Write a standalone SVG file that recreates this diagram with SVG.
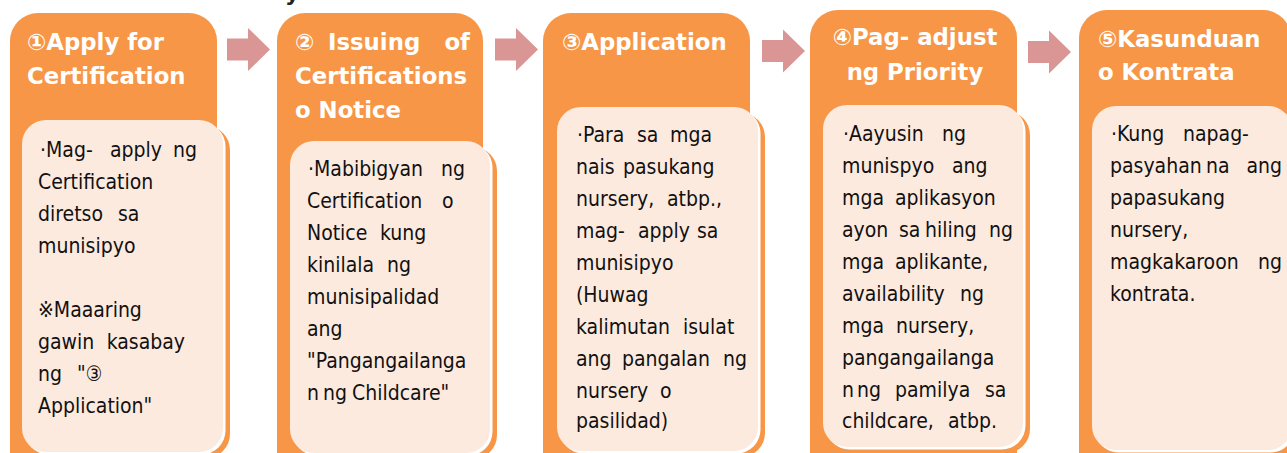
<svg xmlns="http://www.w3.org/2000/svg" width="1287" height="453" viewBox="0 0 1287 453">
<style>
.card{fill:#F79646}
.shadow{fill:#F79646}
.gap{fill:#FFFFFF}
.panel{fill:#FDEADF}
.arrow{fill:#D99694}
.title{font-family:"DejaVu Sans","Verdana","Liberation Sans",sans-serif;font-weight:bold;font-size:22.8px;fill:#FFFFFF}
.body{font-family:"DejaVu Sans Condensed","DejaVu Sans","Liberation Sans Narrow",sans-serif;font-stretch:condensed;font-size:21px;fill:#111111}
.frag{font-family:"DejaVu Sans",sans-serif;font-weight:bold;font-size:22px;fill:#222222}
</style>
<rect width="1287" height="453" fill="#FFFFFF"/>
<text class="frag" x="285" y="1">y</text>

<g id="connectors">
<path class="arrow" d="M227,38.5 H248 V28 L270,49.5 L248,71 V60.5 H227 Z"/>
<path class="arrow" d="M495,38.5 H516 V28 L538,49.5 L516,71 V60.5 H495 Z"/>
<path class="arrow" d="M762,40 H783 V29.5 L805,51 L783,72.5 V62 H762 Z"/>
<path class="arrow" d="M1028,41 H1049 V30.5 L1071,52 L1049,73.5 V63 H1028 Z"/>
</g>

<g id="step1">
<rect class="card" x="10" y="13" width="207" height="470" rx="28"/>
<rect class="shadow" x="29" y="126" width="201" height="332" rx="24"/>
<rect class="gap" x="24.5" y="122.5" width="201" height="332" rx="24"/>
<rect class="panel" x="22" y="120" width="201" height="332" rx="24"/>
<text class="title" x="27" y="50">①Apply for</text>
<text class="title" x="27" y="84">Certification</text>
<g class="body">
<text x="40" y="157">·Mag-</text><text x="110" y="157">apply</text><text x="197" y="157" text-anchor="end">ng</text>
<text x="38" y="189">Certification</text>
<text x="38" y="221">diretso</text><text x="118" y="221">sa</text>
<text x="38" y="253">munisipyo</text>
<text x="38" y="317">※Maaaring</text>
<text x="38" y="349">gawin</text><text x="185" y="349" text-anchor="end">kasabay</text>
<text x="38" y="381">ng</text><text x="77" y="381">"③</text>
<text x="38" y="413">Application"</text>
</g>
</g>

<g id="step2">
<rect class="card" x="277" y="13" width="206" height="470" rx="28"/>
<rect class="shadow" x="297" y="147" width="200" height="312" rx="24"/>
<rect class="gap" x="292.5" y="143.5" width="200" height="312" rx="24"/>
<rect class="panel" x="290" y="141" width="200" height="312" rx="24"/>
<text class="title" x="295" y="50">②</text><text class="title" x="328" y="50">Issuing</text><text class="title" x="470" y="50" text-anchor="end">of</text>
<text class="title" x="295" y="84">Certifications</text>
<text class="title" x="295" y="118">o Notice</text>
<g class="body">
<text x="308" y="176">·Mabibigyan</text><text x="465" y="176" text-anchor="end">ng</text>
<text x="307" y="208">Certification</text><text x="442" y="208">o</text>
<text x="307" y="240">Notice</text><text x="380" y="240">kung</text>
<text x="307" y="272">kinilala</text><text x="387" y="272">ng</text>
<text x="307" y="304">munisipalidad</text>
<text x="307" y="336">ang</text>
<text x="307" y="368">"Pangangailanga</text>
<text x="307" y="400">n</text><text x="323" y="400">ng</text><text x="352" y="400">Childcare"</text>
</g>
</g>

<g id="step3">
<rect class="card" x="543" y="13" width="207" height="470" rx="28"/>
<rect class="shadow" x="564" y="113" width="201" height="344" rx="24"/>
<rect class="gap" x="559.5" y="109.5" width="201" height="344" rx="24"/>
<rect class="panel" x="557" y="107" width="201" height="344" rx="24"/>
<text class="title" x="562" y="50">③Application</text>
<g class="body">
<text x="577" y="142">·Para</text><text x="637" y="142">sa</text><text x="670" y="142">mga</text>
<text x="576" y="174">nais</text><text x="623" y="174">pasukang</text>
<text x="576" y="206">nursery,</text><text x="667" y="206">atbp.,</text>
<text x="576" y="238">mag-</text><text x="638" y="238">apply</text><text x="697" y="238">sa</text>
<text x="576" y="270">munisipyo</text>
<text x="576" y="302">(Huwag</text>
<text x="576" y="334">kalimutan</text><text x="683" y="334">isulat</text>
<text x="576" y="366">ang</text><text x="622" y="366">pangalan</text><text x="747" y="366" text-anchor="end">ng</text>
<text x="576" y="398">nursery</text><text x="660" y="398">o</text>
<text x="576" y="428">pasilidad)</text>
</g>
</g>

<g id="step4">
<rect class="card" x="810" y="10" width="207" height="470" rx="28"/>
<rect class="shadow" x="830" y="111" width="200" height="342" rx="24"/>
<rect class="gap" x="825.5" y="107.5" width="200" height="342" rx="24"/>
<rect class="panel" x="823" y="105" width="200" height="342" rx="24"/>
<text class="title" x="915" y="45" text-anchor="middle">④Pag- adjust</text>
<text class="title" x="915" y="80" text-anchor="middle">ng Priority</text>
<g class="body">
<text x="843" y="141">·Aayusin</text><text x="942" y="141">ng</text>
<text x="842" y="173">munispyo</text><text x="952" y="173">ang</text>
<text x="842" y="205">mga</text><text x="895" y="205">aplikasyon</text>
<text x="842" y="237">ayon</text><text x="899" y="237">sa</text><text x="925" y="237">hiling</text><text x="1013" y="237" text-anchor="end">ng</text>
<text x="842" y="269">mga</text><text x="895" y="269">aplikante,</text>
<text x="842" y="301">availability</text><text x="960" y="301">ng</text>
<text x="842" y="333">mga</text><text x="896" y="333">nursery,</text>
<text x="842" y="365">pangangailanga</text>
<text x="842" y="397">n</text><text x="857" y="397">ng</text><text x="895" y="397">pamilya</text><text x="985" y="397">sa</text>
<text x="842" y="428">childcare,</text><text x="948" y="428">atbp.</text>
</g>
</g>

<g id="step5">
<rect class="card" x="1079" y="10" width="212" height="470" rx="28"/>
<rect class="shadow" x="1099" y="112" width="200" height="344" rx="24"/>
<rect class="gap" x="1094.5" y="108.5" width="200" height="344" rx="24"/>
<rect class="panel" x="1092" y="106" width="200" height="344" rx="24"/>
<text class="title" x="1098" y="47">⑤Kasunduan</text>
<text class="title" x="1098" y="80">o Kontrata</text>
<g class="body">
<text x="1111" y="141">·Kung</text><text x="1183" y="141">napag-</text>
<text x="1110" y="173">pasyahan</text><text x="1206" y="173">na</text><text x="1282" y="173" text-anchor="end">ang</text>
<text x="1110" y="205">papasukang</text>
<text x="1110" y="237">nursery,</text>
<text x="1110" y="269">magkakaroon</text><text x="1282" y="269" text-anchor="end">ng</text>
<text x="1110" y="301">kontrata.</text>
</g>
</g>
</svg>
